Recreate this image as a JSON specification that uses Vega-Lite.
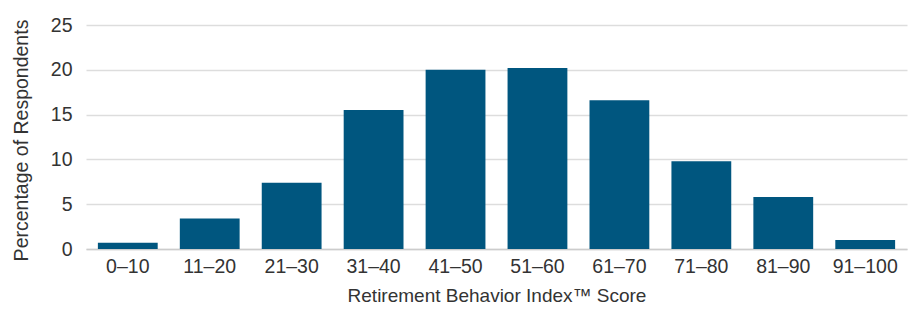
{
  "$schema": "https://vega.github.io/schema/vega-lite/v6.json",
  "autosize": "none",
  "padding": {"left": 86, "top": 25, "right": 10, "bottom": 60},
  "width": 821,
  "height": 224,
  "background": "white",
  "data": {"values": [
    {"score": "0–10", "pct": 0.7},
    {"score": "11–20", "pct": 3.4},
    {"score": "21–30", "pct": 7.4},
    {"score": "31–40", "pct": 15.5},
    {"score": "41–50", "pct": 20.0},
    {"score": "51–60", "pct": 20.2},
    {"score": "61–70", "pct": 16.6},
    {"score": "71–80", "pct": 9.8},
    {"score": "81–90", "pct": 5.8},
    {"score": "91–100", "pct": 1.0}
  ]},
  "config": {
    "font": "Liberation Sans",
    "view": {"stroke": null}
  },
  "mark": {"type": "bar", "color": "#00567f"},
  "encoding": {
    "x": {
      "field": "score", "type": "nominal", "sort": null,
      "scale": {"paddingInner": 0.27, "paddingOuter": 0.145},
      "axis": {
        "title": "Retirement Behavior Index™ Score",
        "titleFontSize": 19, "titleFontWeight": "normal", "titleColor": "#333333",
        "titlePadding": 11,
        "labelAngle": 0, "labelFontSize": 19.5, "labelColor": "#333333", "labelPadding": 8,
        "ticks": false, "domainColor": "#cccccc", "domainWidth": 1.5
      }
    },
    "y": {
      "field": "pct", "type": "quantitative",
      "scale": {"domain": [0, 25]},
      "axis": {
        "title": "Percentage of Respondents",
        "titleFontSize": 19.5, "titleFontWeight": "normal", "titleColor": "#333333",
        "titlePadding": 19, "titleY": 115,
        "values": [0, 5, 10, 15, 20, 25],
        "labelFontSize": 19.5, "labelColor": "#333333", "labelPadding": 14,
        "ticks": false, "domain": false,
        "gridColor": "#dddddd", "gridWidth": 1.5
      }
    }
  }
}
